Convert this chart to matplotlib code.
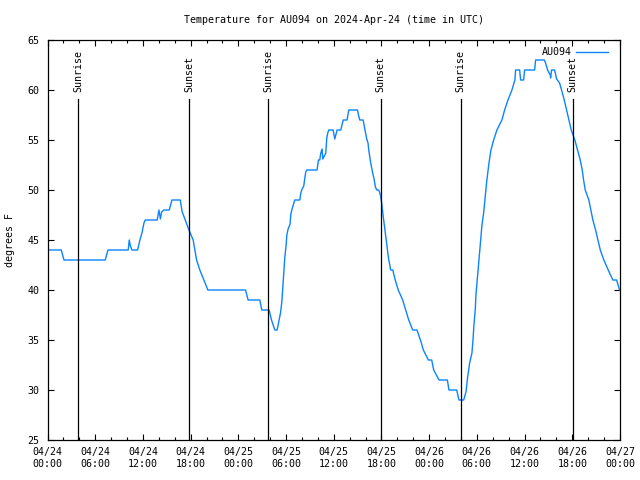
import matplotlib
matplotlib.use("Agg")
import matplotlib.pyplot as plt
import matplotlib.dates as mdates
import pandas as pd

# Station data: hours since 2024-04-24 00:00 UTC and temperature (degrees F)
start = pd.Timestamp("2024-04-24 00:00")

hours = [0.06, 1.73, 2.07, 7.26, 7.60, 10.15, 10.28, 10.43, 10.62, 11.33,
         11.62, 11.88, 12.13, 12.29, 13.80, 14.01, 14.20, 14.35, 14.64, 15.31,
         15.65, 16.69, 16.94, 17.28, 17.74, 18.32, 18.54, 18.75, 19.16, 19.67,
         20.17, 24.91, 25.23, 26.70, 26.95, 27.87, 28.17, 28.59, 28.88, 29.30,
         29.47, 29.59, 29.72, 29.84, 30.01, 30.10, 30.26, 30.51, 30.60, 30.76,
         31.10, 31.73, 31.86, 32.02, 32.23, 32.36, 32.48, 32.61, 33.90, 34.08,
         34.24, 34.37, 34.53, 34.62, 35.00, 35.12, 35.25, 35.37, 35.92, 36.13,
         36.42, 36.88, 37.10, 37.19, 37.67, 37.76, 37.89, 38.98, 39.14, 39.27,
         39.69, 39.77, 39.90, 40.15, 40.31, 40.40, 40.65, 40.87, 41.07, 41.24,
         41.41, 41.66, 41.87, 42.03, 42.20, 42.37, 42.60, 42.88, 43.16, 43.42,
         43.73, 44.11, 44.67, 45.05, 45.43, 45.93, 46.47, 46.90, 47.27, 47.90,
         48.32, 48.57, 49.24, 50.29, 50.49, 51.46, 51.75, 52.34, 52.63, 52.84,
         53.09, 53.38, 53.51, 53.63, 53.81, 53.88, 54.10, 54.31, 54.44, 54.64,
         54.85, 55.07, 55.23, 55.52, 55.77, 56.11, 56.52, 57.15, 57.49, 57.91,
         58.41, 58.78, 58.87, 59.38, 59.50, 59.88, 60.00, 61.26, 61.39, 62.48,
         62.64, 62.89, 63.23, 63.27, 63.40, 63.77, 64.03, 64.40, 64.65, 64.99,
         65.28, 65.57, 65.87, 66.32, 66.66, 67.00, 67.25, 67.42, 67.63, 68.08,
         68.34, 68.59, 68.93, 69.22, 69.52, 69.97, 70.52, 71.10, 71.57, 71.94]

temps = [44, 44, 43, 43, 44, 44, 45, 44.4, 44, 44,
         45, 45.7, 46.7, 47, 47, 48, 47.1, 47.8, 48, 48,
         49, 49, 47.8, 47.1, 46.1, 45, 44, 43, 42, 41,
         40, 40, 39, 39, 38, 38, 37, 36, 36, 37.7,
         38.8, 40.2, 41.7, 43.2, 44.5, 45.5, 46.1, 46.6, 47.6, 48.1,
         49, 49, 49.7, 50.1, 50.4, 51.2, 51.8, 52, 52, 53,
         53, 53.7, 54.1, 53.1, 53.7, 55.2, 55.7, 56, 56, 55.1,
         56, 56, 56.7, 57, 57, 57.4, 58, 58, 57.4, 57,
         57, 56.7, 56.1, 55.1, 54.7, 54, 52.7, 51.8, 51.1, 50.3,
         50, 50, 49.5, 48.7, 47.5, 46.4, 45, 43.2, 42, 42,
         41, 40, 39, 38, 37, 36, 36, 35, 34, 33,
         33, 32, 31, 31, 30, 30, 29, 29, 29.8, 31.3,
         32.7, 33.7, 35, 36.5, 38.2, 39.5, 41.5, 43.5, 44.7, 46.5,
         47.7, 49.5, 50.8, 52.7, 54, 55, 56, 57, 58, 59,
         60, 61, 62, 62, 61, 61, 62, 62, 63, 63,
         62.7, 62, 61.5, 61.2, 62, 62, 61.1, 60.7, 60, 59,
         58, 57, 56, 55, 54, 53, 52, 51, 50, 49,
         48, 47, 46, 45, 44, 43, 42, 41, 41, 40]

event_times = ["2024-04-24 03:50", "2024-04-24 17:50", "2024-04-25 03:46",
               "2024-04-25 17:54", "2024-04-26 03:58", "2024-04-26 18:04"]
event_labels = ["Sunrise", "Sunset", "Sunrise", "Sunset", "Sunrise", "Sunset"]

station = "AU094"
y_ticks = [25, 30, 35, 40, 45, 50, 55, 60, 65]

# ---------------------------------------------------------------
mono = {'family': 'DejaVu Sans Mono', 'size': 7.2}

times = start + pd.to_timedelta(hours, unit="h")

fig = plt.figure(figsize=(6.4, 4.8), dpi=100)
ax = fig.add_axes([47.5 / 640, 40 / 480, 572.5 / 640, 400 / 480])

ax.plot(times, temps, color='#0a84ff', linewidth=1.0, label=station)

for t, lab in zip(event_times, event_labels):
    tt = pd.Timestamp(t)
    ax.plot([tt, tt], [25, 59.1], color='black', linewidth=0.9)
    ax.text(tt, 59.8, lab, rotation=90, ha='center', va='bottom', **mono)

ax.set_xlim(start, start + pd.Timedelta(hours=72))
ax.set_ylim(25, 65)
ax.set_yticks(y_ticks)

ax.xaxis.set_major_locator(mdates.HourLocator(byhour=[0, 6, 12, 18]))
ax.xaxis.set_minor_locator(mdates.HourLocator(byhour=range(0, 24, 2)))
ax.xaxis.set_major_formatter(mdates.DateFormatter("%m/%d\n%H:%M"))

ax.tick_params(axis='both', which='both', direction='in', top=True, right=True)
ax.tick_params(axis='both', which='major', length=4.5, width=0.8)
ax.tick_params(axis='x', which='minor', length=2.5, width=0.8)
ax.tick_params(axis='x', which='major', pad=5)
ax.tick_params(axis='y', which='major', pad=6)
for lab in ax.get_xticklabels() + ax.get_yticklabels():
    lab.set_fontfamily(mono['family'])
    lab.set_fontsize(mono['size'])
for sp in ax.spines.values():
    sp.set_linewidth(0.9)

fig.text(334 / 640, 1 - 20 / 480, f"Temperature for {station} on 2024-Apr-24 (time in UTC)",
         ha='center', va='center', **mono)
fig.text(10 / 640, 0.5, "degrees F", rotation=90, ha='center', va='center', **mono)

leg = ax.legend(loc='upper right', bbox_to_anchor=(0.995, 1.005), frameon=False,
                markerfirst=False, handlelength=3.2, handletextpad=0.4,
                prop={'family': 'DejaVu Sans Mono', 'size': 7.2})

fig.savefig("out.png", dpi=100)
